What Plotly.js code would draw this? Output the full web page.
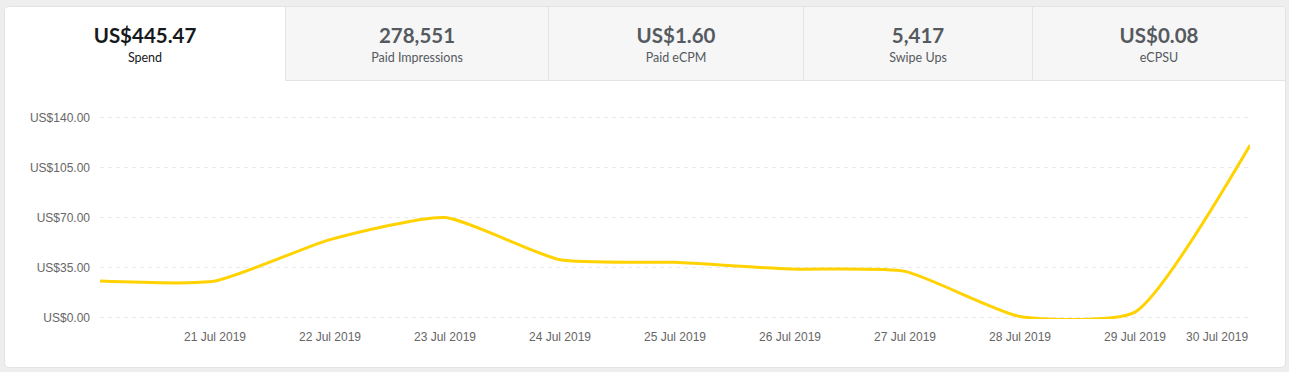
<!DOCTYPE html>
<html>
<head>
<meta charset="utf-8">
<script src="https://cdn.plot.ly/plotly-3.0.1.min.js"></script>
<style>
  html, body { margin: 0; padding: 0; }
  body { width: 1289px; height: 372px; background: #eeeeee; position: relative; overflow: hidden; font-family: Lato, "Open Sans", sans-serif; }
  .card { position: absolute; left: 4px; top: 6px; width: 1282px; height: 362px; box-sizing: border-box; background: #fff; border: 1px solid #e3e3e3; border-radius: 5px; overflow: hidden; }
  .tab { position: absolute; top: 0; height: 74px; box-sizing: border-box; text-align: center; background: #f6f6f6; border-left: 1px solid #e3e3e3; border-bottom: 1px solid #e3e3e3; }
  .tab.active { background: #fff; border-left: none; border-bottom: none; }
  .tab .val { position: absolute; left: 0; right: 0; top: 16px; font-weight: 700; font-size: 20.5px; line-height: 24px; color: #555a60; }
  .tab .lab { position: absolute; left: 0; right: 0; top: 43px; font-size: 12.5px; line-height: 16px; color: #555a60; }
  .tab.active .val { color: #16191c; }
  .tab.active .lab { color: #16191c; }
  #chart { position: absolute; left: 20px; top: 80px; width: 1266px; height: 288px; }
</style>
</head>
<body>
<div class="card" id="card"></div>
<div id="chart"></div>
<script>
// KPI tabs
const kpiValues = ["US$445.47", "278,551", "US$1.60", "5,417", "US$0.08"];
const kpiLabels = ["Spend", "Paid Impressions", "Paid eCPM", "Swipe Ups", "eCPSU"];

// Chart data
const dates = ["2019-07-20", "2019-07-21", "2019-07-22", "2019-07-23", "2019-07-24", "2019-07-25",
               "2019-07-26", "2019-07-27", "2019-07-28", "2019-07-29", "2019-07-30"];
const spend = [25.5, 25.5, 54.5, 70.0, 40.4, 38.6, 33.9, 32.3, 0.7, 3.8, 120.6];
const xTickDates = ["2019-07-21", "2019-07-22", "2019-07-23", "2019-07-24", "2019-07-25",
                    "2019-07-26", "2019-07-27", "2019-07-28", "2019-07-29"];
const xTickLabels = ["21 Jul 2019", "22 Jul 2019", "23 Jul 2019", "24 Jul 2019", "25 Jul 2019",
                     "26 Jul 2019", "27 Jul 2019", "28 Jul 2019", "29 Jul 2019"];
const lastTickDate = "2019-07-30";
const lastTickLabel = "30 Jul 2019";
const yTicks = [0, 35, 70, 105, 140];

// build tabs
const tabLefts = [0, 280, 543, 798, 1027];
const tabRights = [280, 543, 798, 1027, 1280];
const card = document.getElementById('card');
kpiValues.forEach((v, i) => {
  const t = document.createElement('div');
  t.className = 'tab' + (i === 0 ? ' active' : '');
  t.style.left = tabLefts[i] + 'px';
  t.style.width = (tabRights[i] - tabLefts[i]) + 'px';
  const a = document.createElement('div'); a.className = 'val'; a.textContent = v;
  const b = document.createElement('div'); b.className = 'lab'; b.textContent = kpiLabels[i];
  t.appendChild(a); t.appendChild(b);
  card.appendChild(t);
});

const tickFont = { family: '"Liberation Sans", Arial, sans-serif', size: 12, color: '#666666' };

const trace = {
  x: dates, y: spend, type: 'scatter', mode: 'lines',
  line: { color: '#FFD200', width: 3, shape: 'spline', smoothing: 0.55 },
  cliponaxis: false, hoverinfo: 'skip'
};

const layout = {
  width: 1266, height: 288,
  margin: { l: 80, r: 36, t: 36, b: 49 },
  paper_bgcolor: 'rgba(0,0,0,0)', plot_bgcolor: 'rgba(0,0,0,0)',
  showlegend: false,
  xaxis: {
    type: 'date', range: [dates[0], dates[dates.length - 1]],
    tickmode: 'array', tickvals: xTickDates, ticktext: xTickLabels,
    showgrid: false, zeroline: false, showline: false, ticks: '',
    tickfont: tickFont, ticklabelstandoff: 9, fixedrange: true
  },
  yaxis: {
    range: [-1.05, 141.05], tickmode: 'array', tickvals: yTicks,
    ticktext: yTicks.map(v => 'US$' + v.toFixed(2)),
    showgrid: true, gridcolor: '#e9e9e9', gridwidth: 1, griddash: '4px,4px',
    zeroline: false, showline: false, ticks: '',
    tickfont: tickFont, ticklabelstandoff: 9, fixedrange: true
  },
  annotations: [{
    x: lastTickDate, xref: 'x', y: 0, yref: 'paper',
    text: lastTickLabel, showarrow: false, xanchor: 'right', yanchor: 'middle',
    yshift: -18, font: tickFont
  }]
};

Plotly.newPlot('chart', [trace], layout, { displayModeBar: false, staticPlot: true });
</script>
</body>
</html>
